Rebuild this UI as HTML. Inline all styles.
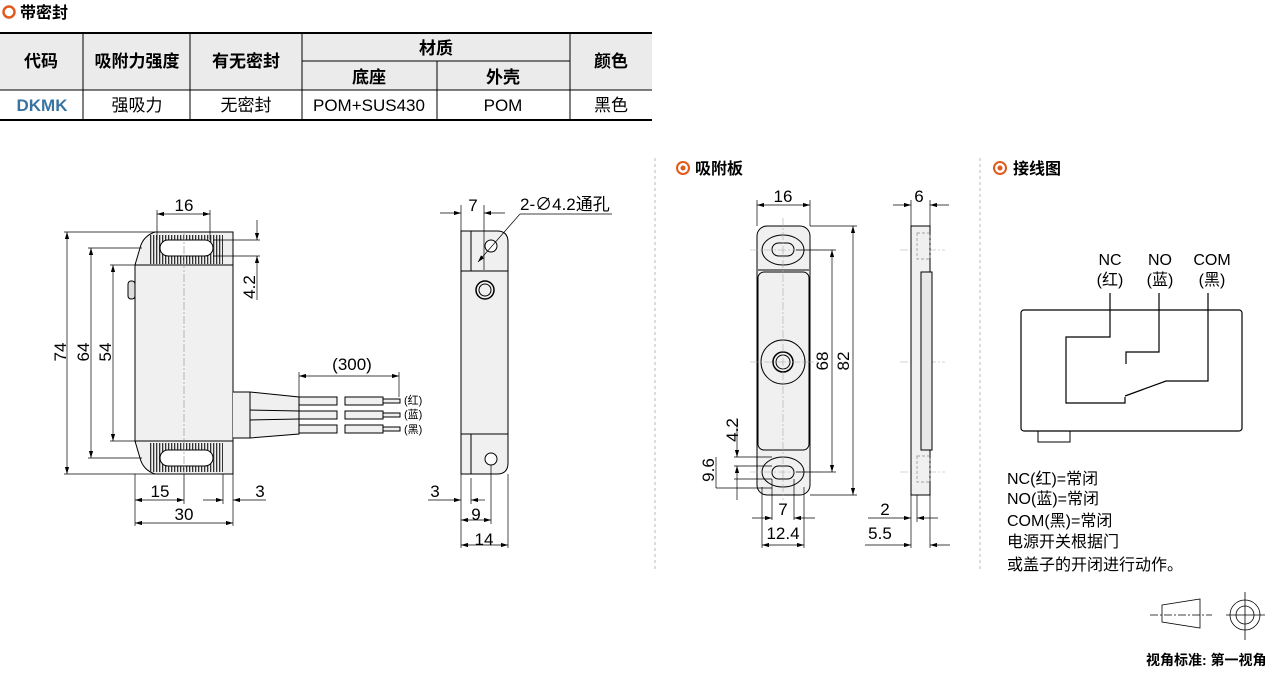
<!DOCTYPE html>
<html><head><meta charset="utf-8"><style>
body{margin:0;background:#fff;}
svg{display:block;font-family:"Liberation Sans","Noto Sans CJK SC",sans-serif;}
</style></head><body>
<svg width="1280" height="681" viewBox="0 0 1280 681" xmlns="http://www.w3.org/2000/svg">
<defs>
<marker id="a" viewBox="0 0 10 6" refX="10" refY="3" markerWidth="10" markerHeight="6" orient="auto-start-reverse"><path d="M0,0L10,3L0,6z" fill="#000"/></marker>
<pattern id="h" width="3" height="4" patternUnits="userSpaceOnUse"><rect width="1.3" height="4" fill="#333"/></pattern>
</defs>
<circle cx="9" cy="12" r="5.5" fill="none" stroke="#e05a1e" stroke-width="2.5"/>
<text x="20" y="18" font-size="16" font-weight="bold">带密封</text>
<rect x="0" y="33" width="652" height="57" fill="#ebebeb"/>
<g stroke="#000" stroke-width="1" fill="none">
<line x1="0" y1="33" x2="652" y2="33" stroke-width="2"/>
<line x1="0" y1="90" x2="652" y2="90"/>
<line x1="0" y1="120" x2="652" y2="120" stroke-width="2"/>
<line x1="302" y1="61" x2="570" y2="61"/>
<line x1="83" y1="33" x2="83" y2="120"/><line x1="190" y1="33" x2="190" y2="120"/>
<line x1="302" y1="33" x2="302" y2="120"/><line x1="437" y1="61" x2="437" y2="120"/>
<line x1="570" y1="33" x2="570" y2="120"/>
</g>
<g font-size="17" text-anchor="middle">
<text x="41" y="67" font-weight="bold">代码</text>
<text x="137" y="67" font-weight="bold">吸附力强度</text>
<text x="246" y="67" font-weight="bold">有无密封</text>
<text x="436" y="54" font-weight="bold">材质</text>
<text x="369" y="83" font-weight="bold">底座</text>
<text x="503" y="83" font-weight="bold">外壳</text>
<text x="611" y="67" font-weight="bold">颜色</text>
<text x="42" y="111" font-weight="bold" fill="#3a74a0">DKMK</text>
<text x="137" y="111">强吸力</text>
<text x="246" y="111">无密封</text>
<text x="369" y="111">POM+SUS430</text>
<text x="503" y="111">POM</text>
<text x="611" y="111">黑色</text>
</g>
<line x1="655" y1="158" x2="655" y2="572" stroke="#bbb" stroke-dasharray="3,3"/>
<line x1="980" y1="158" x2="980" y2="572" stroke="#bbb" stroke-dasharray="3,3"/>
<circle cx="683" cy="168" r="6" fill="none" stroke="#e05a1e" stroke-width="2"/><circle cx="683" cy="168" r="2.5" fill="#e05a1e"/>
<text x="695" y="174" font-size="16" font-weight="bold">吸附板</text>
<circle cx="1000" cy="168" r="6" fill="none" stroke="#e05a1e" stroke-width="2"/><circle cx="1000" cy="168" r="2.5" fill="#e05a1e"/>
<text x="1013" y="174" font-size="16" font-weight="bold">接线图</text>

<g stroke="#000" stroke-width="1" font-size="16">
<path d="M155,232 L233,232 L233,474 L155,474 Q143,470 140,458 L135,441 L135,265 L140,248 Q143,236 155,232Z" fill="#f0f0f0"/>
<line x1="135" y1="265" x2="233" y2="265"/><line x1="135" y1="441" x2="233" y2="441"/>
<path d="M150,235H223V264H150Z" fill="url(#h)" stroke="none"/>
<path d="M150,443H223V472H150Z" fill="url(#h)" stroke="none"/>
<rect x="160" y="240" width="53" height="16" rx="8" fill="#fff"/>
<rect x="160" y="450" width="53" height="16" rx="8" fill="#fff"/>
<rect x="128" y="281" width="7" height="18" rx="3" fill="#ddd"/>
<path d="M233,392H250V438H233" fill="#f0f0f0"/>
<path d="M250,392L299,397V434L250,438Z" fill="#f0f0f0"/>
<line x1="250" y1="410" x2="299" y2="411"/><line x1="250" y1="420" x2="299" y2="419"/>
<g fill="#f0f0f0">
<rect x="299" y="397" width="38" height="8"/><rect x="345" y="397" width="38" height="8"/>
<rect x="299" y="411" width="38" height="8"/><rect x="345" y="411" width="38" height="8"/>
<rect x="299" y="425" width="38" height="8"/><rect x="345" y="425" width="38" height="8"/>
<rect x="383" y="399" width="17" height="4"/><rect x="383" y="413" width="17" height="4"/><rect x="383" y="427" width="17" height="4"/>
</g>
<g stroke-width="0.7" fill="none">
<line x1="67" y1="232" x2="67" y2="474" marker-start="url(#a)" marker-end="url(#a)"/>
<line x1="64" y1="232" x2="155" y2="232"/><line x1="64" y1="474" x2="155" y2="474"/>
<line x1="91" y1="248" x2="91" y2="458" marker-start="url(#a)" marker-end="url(#a)"/>
<line x1="88" y1="248" x2="142" y2="248"/><line x1="88" y1="458" x2="142" y2="458"/>
<line x1="113" y1="265" x2="113" y2="441" marker-start="url(#a)" marker-end="url(#a)"/>
<line x1="110" y1="265" x2="135" y2="265"/><line x1="110" y1="441" x2="135" y2="441"/>
<line x1="157" y1="214" x2="210" y2="214" marker-start="url(#a)" marker-end="url(#a)"/>
<line x1="157" y1="210" x2="157" y2="240"/><line x1="210" y1="210" x2="210" y2="240"/>
<line x1="213" y1="240" x2="260" y2="240"/><line x1="213" y1="256" x2="260" y2="256"/>
<line x1="257" y1="220" x2="257" y2="240" marker-end="url(#a)"/><line x1="257" y1="300" x2="257" y2="256" marker-end="url(#a)"/>
<line x1="299" y1="376" x2="399" y2="376" marker-start="url(#a)" marker-end="url(#a)"/>
<line x1="299" y1="372" x2="299" y2="397"/><line x1="399" y1="372" x2="399" y2="397"/>
<line x1="135" y1="474" x2="135" y2="526"/><line x1="184" y1="474" x2="184" y2="504"/>
<line x1="223" y1="474" x2="223" y2="504"/><line x1="233" y1="474" x2="233" y2="526"/>
<line x1="135" y1="500" x2="184" y2="500" marker-start="url(#a)" marker-end="url(#a)"/>
<line x1="203" y1="500" x2="223" y2="500" marker-end="url(#a)"/><line x1="266" y1="500" x2="233" y2="500" marker-end="url(#a)"/>
<line x1="135" y1="523" x2="233" y2="523" marker-start="url(#a)" marker-end="url(#a)"/>
<line x1="184" y1="232" x2="184" y2="474" stroke="#999" stroke-dasharray="8,2,2,2"/>
</g>
</g>
<g font-size="17" text-anchor="middle">
<text transform="translate(66,352) rotate(-90)">74</text>
<text transform="translate(89,352) rotate(-90)">64</text>
<text transform="translate(111,352) rotate(-90)">54</text>
<text x="184" y="211">16</text>
<text transform="translate(255,287) rotate(-90)">4.2</text>
<text x="352" y="370">(300)</text>
<text x="160" y="497">15</text>
<text x="260" y="497">3</text>
<text x="184" y="520">30</text>
<text x="435" y="497">3</text><text x="476" y="520">9</text><text x="484" y="545">14</text>
<text x="473" y="211">7</text>
<text x="783" y="202">16</text><text x="919" y="202">6</text>
<text transform="translate(828,361) rotate(-90)">68</text>
<text transform="translate(849,361) rotate(-90)">82</text>
<text transform="translate(738,430) rotate(-90)">4.2</text>
<text transform="translate(714,470) rotate(-90)">9.6</text>
<text x="783" y="515">7</text><text x="783" y="539">12.4</text>
<text x="885" y="515">2</text><text x="880" y="539">5.5</text>
</g>
<text x="520" y="210" font-size="17">2-∅4.2通孔</text>
<g font-size="11"><text x="404" y="404">(红)</text><text x="404" y="418">(蓝)</text><text x="404" y="433">(黑)</text></g>

<g stroke="#000" stroke-width="1" fill="none">
<path d="M461,231H497Q508,231 508,242V463Q508,474 497,474H461Z" fill="#f0f0f0"/>
<line x1="461" y1="271" x2="508" y2="271"/><line x1="461" y1="434" x2="508" y2="434"/>
<line x1="471" y1="231" x2="471" y2="271"/><line x1="471" y1="434" x2="471" y2="474"/>
<circle cx="491" cy="246" r="6" fill="#fff"/><circle cx="491" cy="459" r="6" fill="#fff"/>
<circle cx="485" cy="290" r="9" stroke-width="1.5"/><circle cx="485" cy="290" r="6"/>
<g stroke-width="0.7">
<line x1="461" y1="205" x2="461" y2="231"/><line x1="484" y1="205" x2="484" y2="270"/>
<line x1="440" y1="213" x2="461" y2="213" marker-end="url(#a)"/><line x1="505" y1="213" x2="484" y2="213" marker-end="url(#a)"/>
<line x1="612" y1="214" x2="520" y2="214"/><line x1="520" y1="214" x2="478" y2="262" marker-end="url(#a)"/>
<line x1="461" y1="474" x2="461" y2="548"/><line x1="471" y1="478" x2="471" y2="504"/>
<line x1="491" y1="465" x2="491" y2="524"/><line x1="508" y1="474" x2="508" y2="548"/>
<line x1="428" y1="500" x2="461" y2="500" marker-end="url(#a)"/><line x1="485" y1="500" x2="471" y2="500" marker-end="url(#a)"/>
<line x1="461" y1="520" x2="491" y2="520" marker-start="url(#a)" marker-end="url(#a)"/>
<line x1="461" y1="545" x2="508" y2="545" marker-start="url(#a)" marker-end="url(#a)"/>
</g>
<rect x="757" y="226" width="53" height="269" rx="10" fill="#f0f0f0"/>
<rect x="758" y="272" width="51" height="178" rx="6"/>
<line x1="758" y1="270" x2="809" y2="270"/>
<ellipse cx="783" cy="250" rx="21" ry="15"/><rect x="772" y="243" width="22" height="13" rx="6.5"/>
<ellipse cx="783" cy="472" rx="21" ry="15"/><rect x="772" y="466" width="22" height="13" rx="6.5"/>
<circle cx="783" cy="362" r="22"/><circle cx="783" cy="362" r="10" stroke-width="1.5"/><circle cx="783" cy="362" r="7"/>
<g stroke="#aaa" stroke-width="0.6" stroke-dasharray="8,2,2,2">
<line x1="783" y1="218" x2="783" y2="500"/><line x1="750" y1="250" x2="818" y2="250"/>
<line x1="750" y1="362" x2="818" y2="362"/><line x1="750" y1="472" x2="818" y2="472"/>
<line x1="900" y1="250" x2="945" y2="250"/><line x1="900" y1="362" x2="945" y2="362"/><line x1="900" y1="472" x2="945" y2="472"/>
</g>
<g stroke-width="0.7">
<line x1="757" y1="200" x2="757" y2="226"/><line x1="810" y1="200" x2="810" y2="226"/>
<line x1="757" y1="205" x2="810" y2="205" marker-start="url(#a)" marker-end="url(#a)"/>
<line x1="796" y1="250" x2="836" y2="250"/><line x1="796" y1="472" x2="836" y2="472"/>
<line x1="832" y1="250" x2="832" y2="472" marker-start="url(#a)" marker-end="url(#a)"/>
<line x1="810" y1="226" x2="857" y2="226"/><line x1="810" y1="495" x2="857" y2="495"/>
<line x1="853" y1="226" x2="853" y2="495" marker-start="url(#a)" marker-end="url(#a)"/>
<line x1="734" y1="457" x2="772" y2="457"/><line x1="734" y1="466" x2="772" y2="466"/>
<line x1="734" y1="479" x2="772" y2="479"/><line x1="716" y1="488" x2="772" y2="488"/>
<line x1="737" y1="418" x2="737" y2="457" marker-end="url(#a)"/><line x1="737" y1="500" x2="737" y2="466" marker-end="url(#a)"/>
<line x1="716" y1="457" x2="716" y2="488"/>
<line x1="772" y1="479" x2="772" y2="520"/><line x1="794" y1="479" x2="794" y2="520"/>
<line x1="752" y1="518" x2="772" y2="518" marker-end="url(#a)"/><line x1="815" y1="518" x2="794" y2="518" marker-end="url(#a)"/>
<line x1="762" y1="487" x2="762" y2="548"/><line x1="804" y1="487" x2="804" y2="548"/>
<line x1="762" y1="545" x2="804" y2="545" marker-start="url(#a)" marker-end="url(#a)"/>
</g>
<rect x="911" y="226" width="19" height="269" fill="#f0f0f0"/>
<rect x="921" y="272" width="11" height="178" fill="#e8e8e8"/>
<g stroke="#888" stroke-dasharray="3,2" stroke-width="0.7"><rect x="917" y="233" width="13" height="26"/><rect x="917" y="456" width="13" height="26"/></g>
<g stroke-width="0.7">
<line x1="911" y1="200" x2="911" y2="226"/><line x1="930" y1="200" x2="930" y2="226"/>
<line x1="893" y1="205" x2="911" y2="205" marker-end="url(#a)"/><line x1="949" y1="205" x2="930" y2="205" marker-end="url(#a)"/>
<line x1="911" y1="495" x2="911" y2="548"/><line x1="917" y1="495" x2="917" y2="522"/><line x1="930" y1="495" x2="930" y2="548"/>
<line x1="868" y1="518" x2="911" y2="518" marker-end="url(#a)"/><line x1="938" y1="518" x2="917" y2="518" marker-end="url(#a)"/>
<line x1="865" y1="545" x2="911" y2="545" marker-end="url(#a)"/><line x1="950" y1="545" x2="930" y2="545" marker-end="url(#a)"/>
</g>
<rect x="1021" y="310" width="221" height="121" rx="3" stroke-width="1.2"/>
<rect x="1038" y="431" width="32" height="11"/>
<path d="M1110,293V337H1066V403H1125V397M1159,293V352H1126V364M1208,293V381H1166L1125,396" stroke-width="1.2"/>
<g stroke-width="0.8">
<path d="M1162,605L1200,599V628L1162,622Z"/>
<line x1="1150" y1="615" x2="1212" y2="615" stroke-dasharray="8,2,2,2"/>
<circle cx="1245" cy="615" r="15"/><circle cx="1245" cy="615" r="9"/>
<line x1="1226" y1="615" x2="1265" y2="615"/><line x1="1245" y1="592" x2="1245" y2="640"/>
</g>
</g>
<g font-size="16" text-anchor="middle">
<text x="1110" y="265">NC</text><text x="1110" y="285">(红)</text>
<text x="1160" y="265">NO</text><text x="1160" y="285">(蓝)</text>
<text x="1212" y="265">COM</text><text x="1212" y="285">(黑)</text>
</g>
<g font-size="16">
<text x="1007" y="484">NC(红)=常闭</text>
<text x="1007" y="504">NO(蓝)=常闭</text>
<text x="1007" y="526">COM(黑)=常闭</text>
<text x="1007" y="547">电源开关根据门</text>
<text x="1007" y="570">或盖子的开闭进行动作。</text>
</g>
<text x="1146" y="665" font-size="14" font-weight="bold">视角标准: 第一视角</text>
</svg>
</body></html>
